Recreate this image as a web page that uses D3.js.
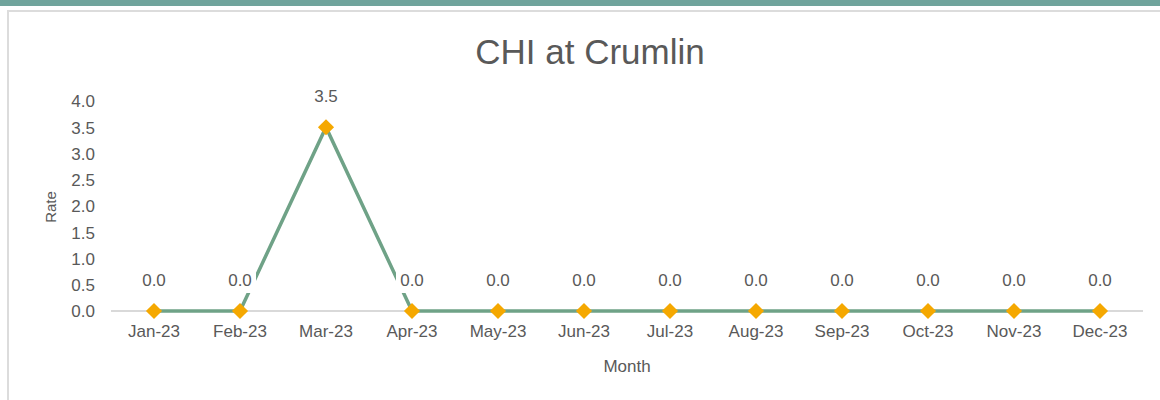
<!DOCTYPE html>
<html>
  <head>
    <style>
      body { margin: 0; background: #fff; }
      .tick text, .lbl, .axis-title { font-family: "Liberation Sans Narrow", "Liberation Sans", Arial, sans-serif; fill: #595959; }
      .title { font-family: "Liberation Sans", Arial, sans-serif; fill: #595959; }
    </style>
  </head>
  <body>
    <script src="https://d3js.org/d3.v7.min.js"></script>
    <div id="chart"></div>
    <script>
      // Chart data
      var months = ["Jan-23", "Feb-23", "Mar-23", "Apr-23", "May-23", "Jun-23",
                    "Jul-23", "Aug-23", "Sep-23", "Oct-23", "Nov-23", "Dec-23"];
      var rates = [0, 0, 3.5, 0, 0, 0, 0, 0, 0, 0, 0, 0];
      var yTicks = [0, 0.5, 1, 1.5, 2, 2.5, 3, 3.5, 4];

      var W = 1160, H = 400;
      var margin = {top: 101, right: 17, bottom: 89, left: 111},
          width = W - margin.left - margin.right,
          height = H - margin.top - margin.bottom;

      var svg = d3.select("#chart").append("svg")
          .attr("width", W)
          .attr("height", H);

      // top band and chart frame
      svg.append("rect").attr("x", 0).attr("y", 0).attr("width", W).attr("height", 6)
          .attr("fill", "#70a49c");
      svg.append("path").attr("d", "M8," + H + "V11H" + W)
          .attr("fill", "none").attr("stroke", "#dcdcdc").attr("stroke-width", 2);

      svg.append("text").attr("class", "title")
          .attr("x", 590).attr("y", 64)
          .attr("text-anchor", "middle")
          .style("font-size", "35px")
          .text("CHI at Crumlin");

      var g = svg.append("g")
          .attr("transform", "translate(" + margin.left + "," + margin.top + ")");

      var x = d3.scaleBand().domain(months).range([0, width]);
      var y = d3.scaleLinear().domain([0, 4]).range([height, 0]);
      var cx = function(d) { return x(d) + x.bandwidth() / 2; };

      // baseline
      g.append("line").attr("x1", 0).attr("x2", width)
          .attr("y1", y(0)).attr("y2", y(0))
          .attr("stroke", "#d9d9d9").attr("stroke-width", 2);

      // y axis
      var yAxis = g.append("g")
          .call(d3.axisLeft(y).tickValues(yTicks).tickSize(0).tickPadding(16)
            .tickFormat(d3.format(".1f")));
      yAxis.select(".domain").remove();
      yAxis.selectAll("text").style("font-size", "17px").attr("dy", "0.35em");

      // x axis
      var xAxis = g.append("g")
          .attr("transform", "translate(0," + height + ")")
          .call(d3.axisBottom(x).tickSize(0).tickPadding(14));
      xAxis.select(".domain").remove();
      xAxis.selectAll("text").style("font-size", "17px");

      // line
      var line = d3.line()
          .x(function(d, i) { return cx(months[i]); })
          .y(function(d) { return y(d); });
      g.append("path").datum(rates)
          .attr("d", line)
          .attr("fill", "none")
          .attr("stroke", "#6fa287")
          .attr("stroke-width", 3.5);

      // data labels with white boxes
      var labels = g.selectAll(".lblg").data(rates).enter().append("g")
          .attr("transform", function(d, i) { return "translate(" + cx(months[i]) + "," + (y(d) - 31) + ")"; });
      labels.append("rect").attr("x", -16).attr("y", -13).attr("width", 32).attr("height", 26)
          .attr("fill", "#fff");
      labels.append("text").attr("class", "lbl")
          .attr("text-anchor", "middle").attr("dy", "0.35em")
          .style("font-size", "17px")
          .text(function(d) { return d.toFixed(1); });

      // diamond markers
      g.selectAll(".pt").data(rates).enter().append("path")
          .attr("d", d3.symbol().type(d3.symbolSquare).size(130))
          .attr("transform", function(d, i) { return "translate(" + cx(months[i]) + "," + y(d) + ") rotate(45)"; })
          .attr("fill", "#f5a800");

      // axis titles
      svg.append("text").attr("class", "axis-title")
          .attr("transform", "translate(56,207) rotate(-90)")
          .attr("text-anchor", "middle")
          .style("font-size", "15px")
          .text("Rate");
      svg.append("text").attr("class", "axis-title")
          .attr("x", margin.left + width / 2).attr("y", 372)
          .attr("text-anchor", "middle")
          .style("font-size", "17px")
          .text("Month");
    </script>
  </body>
</html>
